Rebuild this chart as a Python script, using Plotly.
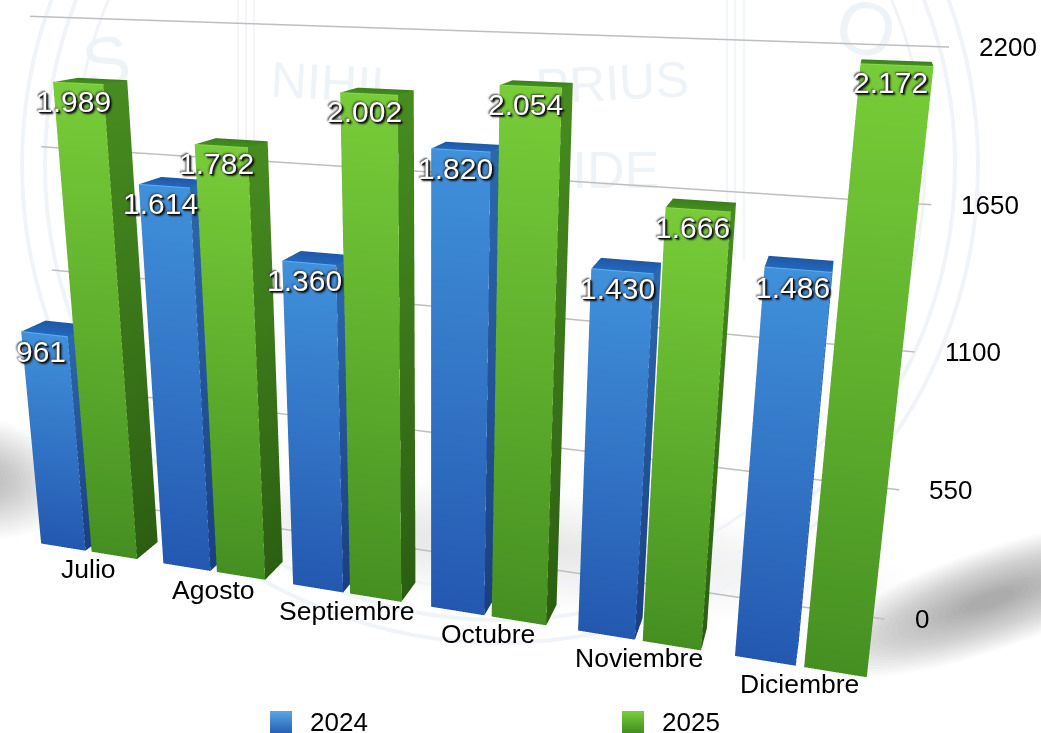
import math
import plotly.graph_objects as go

categories = ["Julio", "Agosto", "Septiembre", "Octubre", "Noviembre", "Diciembre"]
values_2024 = [961, 1614, 1360, 1820, 1430, 1486]
values_2025 = [1989, 1782, 2002, 2054, 1666, 2172]
labels_2024 = ["961", "1.614", "1.360", "1.820", "1.430", "1.486"]
labels_2025 = ["1.989", "1.782", "2.002", "2.054", "1.666", "2.172"]
tick_values = [0, 550, 1100, 1650, 2200]

PAGE_W, PAGE_H = 1120, 1069
LEFT, TOP = 78, 218
FONT = "Liberation Sans, Arial, sans-serif"

def px(x):
    return (x + LEFT) / PAGE_W
def py(y):
    return 1 - (y + TOP) / PAGE_H

# ---------- bars as boxes in the 3-D scene
def add_box(store, x0, x1, y0, y1, z, front, side, top):
    def quad(pts, cols):
        n = len(store["x"])
        for p, c in zip(pts, cols):
            store["x"].append(p[0]); store["y"].append(p[1]); store["z"].append(p[2])
            store["c"].append(c)
        store["i"] += [n, n]; store["j"] += [n + 1, n + 2]; store["k"] += [n + 2, n + 3]
    quad([(x0, y0, 0), (x1, y0, 0), (x1, y0, z), (x0, y0, z)],
         [front[1], front[1], front[0], front[0]])
    quad([(x1, y0, 0), (x1, y1, 0), (x1, y1, z), (x1, y0, z)],
         [side[1], side[1], side[0], side[0]])
    quad([(x0, y1, 0), (x0, y0, 0), (x0, y0, z), (x0, y1, z)],
         [side[1], side[1], side[0], side[0]])
    quad([(x0, y0, z), (x1, y0, z), (x1, y1, z), (x0, y1, z)],
         [top[0], top[0], top[1], top[1]])

BAR_W, GAP, BAR_D = 0.37, 0.05, 0.37
def series_mesh(values, offset, name, front, side, top):
    s = dict(x=[], y=[], z=[], c=[], i=[], j=[], k=[])
    for idx, v in enumerate(values):
        x0 = idx + offset
        add_box(s, x0, x0 + BAR_W, 0, BAR_D, v, front, side, top)
    return go.Mesh3d(x=s["x"], y=s["y"], z=s["z"], i=s["i"], j=s["j"], k=s["k"],
                     vertexcolor=s["c"], name=name, hoverinfo="skip", flatshading=False,
                     lighting=dict(ambient=1, diffuse=0, specular=0, roughness=1, fresnel=0))

def top_edge(values, offset, color):
    xs, ys, zs = [], [], []
    for idx, v in enumerate(values):
        xs += [idx + offset, idx + offset + BAR_W, None]
        ys += [0, 0, None]
        zs += [v, v, None]
    return go.Scatter3d(x=xs, y=ys, z=zs, mode="lines", line=dict(color=color, width=2),
                        hoverinfo="skip", showlegend=False)

fig = go.Figure()
OFF_24, OFF_25 = -BAR_W - GAP / 2, GAP / 2
fig.add_trace(series_mesh(values_2024, OFF_24, "2024",
                          ("#4090DA", "#2458B0"), ("#2C68AC", "#1A3F80"), ("#2468BC", "#1F58A8")))
fig.add_trace(series_mesh(values_2025, OFF_25, "2025",
                          ("#78CC38", "#458F22"), ("#478C20", "#2C5E12"), ("#44901F", "#3A7F1C")))
fig.add_trace(top_edge(values_2024, OFF_24, "#58B4F0"))
fig.add_trace(top_edge(values_2025, OFF_25, "#8AD84A"))

# ---------- grid on the back wall
XMIN, XMAX = -0.65, 5.5
for t in tick_values:
    fig.add_trace(go.Scatter3d(x=[XMIN, XMAX], y=[1, 1], z=[t, t], mode="lines",
                               line=dict(color="#BEBEBE", width=3), hoverinfo="skip", showlegend=False))

# ---------- camera
YAW, PITCH, ROLL = math.radians(16.5), math.radians(16.5), 0.012
D = 2.0
FOCAL = PAGE_H / 2 / math.tan(math.radians(22.5))
PX0, PY0 = PAGE_W / 2 - LEFT, PAGE_H / 2 - TOP
CX, CY = 424, 323  # where the scene centre should land on the page
sy, cy, sp, cp = math.sin(YAW), math.cos(YAW), math.sin(PITCH), math.cos(PITCH)
dv = (-sy * cp, cy * cp, -sp)
rv = (cy, sy, 0)
uv = (-sy * sp, cy * sp, cp)
xc = (CX - PX0) / FOCAL * D
yc = (PY0 - CY) / FOCAL * D
eye = [-(xc * rv[a] + yc * uv[a] + D * dv[a]) for a in range(3)]
look = [eye[a] + D * dv[a] for a in range(3)]
up = [uv[a] - ROLL * rv[a] for a in range(3)]

# ---------- texts anchored in the scene
shadow = "2px 2px 2px #111, 1px 1px 1px #000, -1px -1px 2px #444"
notes = []
for idx, (v, lab) in enumerate(zip(values_2024, labels_2024)):
    notes.append(dict(x=idx - BAR_W / 2 - GAP / 2 - 0.03, y=0, z=v, text=lab, showarrow=False, yshift=-18,
                      font=dict(family=FONT, size=30, color="white", shadow=shadow)))
for idx, (v, lab) in enumerate(zip(values_2025, labels_2025)):
    notes.append(dict(x=idx + BAR_W / 2 + GAP / 2 - 0.03, y=0, z=v, text=lab, showarrow=False, yshift=-18,
                      font=dict(family=FONT, size=30, color="white", shadow=shadow)))
for idx, cat in enumerate(categories):
    notes.append(dict(x=idx, y=0, z=0, text=cat, showarrow=False, yshift=-18,
                      font=dict(family=FONT, size=26.5, color="black")))
for t in tick_values:
    notes.append(dict(x=XMAX, y=1, z=t, text=str(t), showarrow=False, xanchor="left", xshift=28,
                      font=dict(family=FONT, size=26, color="black")))

fig.update_layout(
    width=PAGE_W, height=PAGE_H, margin=dict(l=0, r=0, t=0, b=0),
    paper_bgcolor="white", showlegend=False,
    scene=dict(
        domain=dict(x=[0, 1], y=[0, 1]),
        bgcolor="rgba(0,0,0,0)",
        aspectmode="manual", aspectratio=dict(x=1.454, y=0.18, z=0.875),
        xaxis=dict(visible=False, range=[XMIN, XMAX]),
        yaxis=dict(visible=False, range=[0, 1]),
        zaxis=dict(visible=False, range=[0, 2200]),
        camera=dict(projection=dict(type="perspective"),
                    eye=dict(x=eye[0], y=eye[1], z=eye[2]),
                    center=dict(x=look[0], y=look[1], z=look[2]),
                    up=dict(x=up[0], y=up[1], z=up[2])),
        annotations=notes,
    ),
)

# ---------- decoration on the page: watermark, floor shadow, legend
shapes, annos = [], []
def ellipse_path(cx_, cy_, rx, ry, ang=0, n=48):
    pts = []
    ca, sa = math.cos(ang), math.sin(ang)
    for k in range(n):
        t = 2 * math.pi * k / n
        ex, ey = rx * math.cos(t), ry * math.sin(t)
        pts.append((px(cx_ + ex * ca - ey * sa), py(cy_ + ex * sa + ey * ca)))
    return "M" + "L".join(f"{a:.5f},{b:.5f}" for a, b in pts) + "Z"

def soft(cx_, cy_, rx, ry, ang, op, layers=24):
    for k in range(layers):
        f = 1 - k / layers * 0.9
        shapes.append(dict(type="path", path=ellipse_path(cx_, cy_, rx * f, ry * f, ang), xref="paper", yref="paper",
                           fillcolor="#555555", opacity=op, line=dict(width=0), layer="below"))

soft(-20, 478, 95, 60, 0.15, 0.02)
soft(990, 600, 190, 50, -0.33, 0.025)
soft(500, 545, 420, 60, 0.1, 0.003)

for r, w in [(478, 4), (455, 4), (425, 3)]:
    shapes.append(dict(type="circle", xref="paper", yref="paper", x0=px(500 - r), x1=px(500 + r),
                       y0=py(165 + r), y1=py(165 - r), line=dict(color="#F0F4F8", width=w), layer="below"))
for x_ in (238, 246, 254, 727, 735, 744):
    shapes.append(dict(type="line", xref="paper", yref="paper", x0=px(x_), x1=px(x_), y0=py(0), y1=py(260),
                       line=dict(color="#F2F5F9", width=2), layer="below"))
for txt, x_, y_, sz, rot in [("NIHIL", 335, 78, 50, 3), ("PRIUS", 612, 78, 50, -3), ("FIDE", 600, 165, 52, 0),
                             ("S", 105, 55, 70, -10), ("O", 868, 22, 75, 15)]:
    shapes.append(dict(type="rect", xref="paper", yref="paper", x0=px(x_ - 100), x1=px(x_ + 100),
                       y0=py(y_ + 40), y1=py(y_ - 40), line=dict(width=0), layer="below",
                       fillcolor="rgba(0,0,0,0)",
                       label=dict(text=txt, textposition="middle center", textangle=rot,
                                  font=dict(family=FONT, size=sz, color="#EEF3F7"))))

def swatch(x0, c_top, c_bottom):
    def h2(c):
        return [int(c[i:i + 2], 16) for i in (1, 3, 5)]
    a, b = h2(c_top), h2(c_bottom)
    n = 11
    for k in range(n):
        m = [round(a[i] + (b[i] - a[i]) * k / (n - 1)) for i in range(3)]
        shapes.append(dict(type="rect", xref="paper", yref="paper", x0=px(x0), x1=px(x0 + 22),
                           y0=py(711 + k * 2), y1=py(711 + (k + 1) * 2),
                           fillcolor=f"rgb({m[0]},{m[1]},{m[2]})", line=dict(width=0), layer="below"))
swatch(270, "#54A5E0", "#2A62B8")
swatch(622, "#78CC38", "#458F22")
annos.append(dict(xref="paper", yref="paper", x=px(308), y=py(722), xanchor="left", yanchor="middle", text="2024",
                  showarrow=False, font=dict(family=FONT, size=26, color="black")))
annos.append(dict(xref="paper", yref="paper", x=px(660), y=py(722), xanchor="left", yanchor="middle", text="2025",
                  showarrow=False, font=dict(family=FONT, size=26, color="black")))
fig.update_layout(shapes=shapes, annotations=annos)

fig.write_html("out.html", config={"displayModeBar": False},
               post_script=f"document.body.style.margin='-{TOP}px 0 0 -{LEFT}px';document.documentElement.style.overflow='hidden';")
